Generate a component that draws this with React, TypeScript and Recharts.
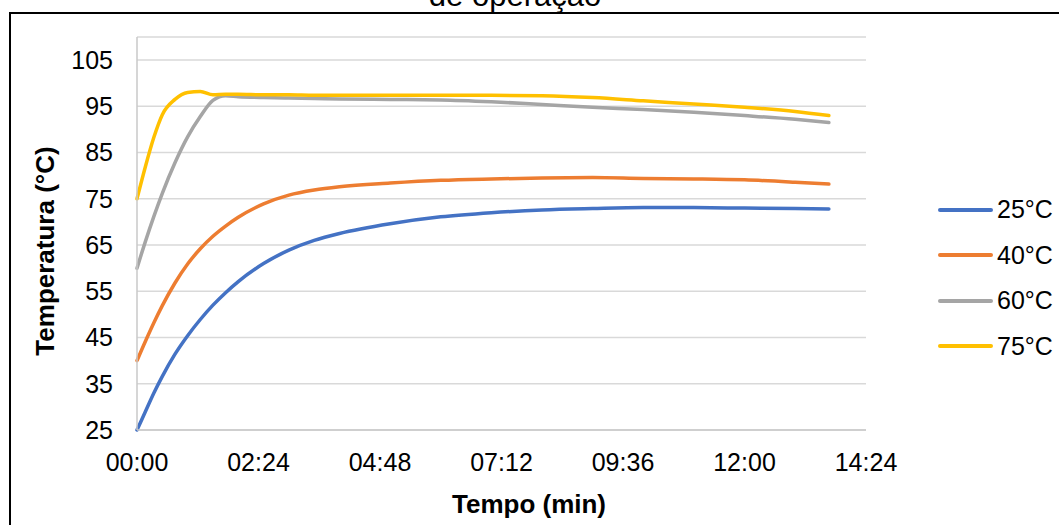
import React from "react";
import {
  LineChart,
  Line,
  XAxis,
  YAxis,
  CartesianGrid,
  Legend,
  Label,
} from "recharts";

// tempo em segundos
const times = [
  0, 10, 20, 30, 45, 60, 75, 90, 105, 120, 150, 180, 210, 240, 300, 360, 420,
  480, 540, 600, 660, 720, 780, 820,
];

const temp25 = [
  25, 29, 33, 36.6, 41.4, 45.4, 48.9, 52, 54.7, 57.1, 61, 63.9, 66, 67.5,
  69.6, 71.1, 72, 72.6, 72.9, 73.1, 73.1, 73, 72.9, 72.8,
];
const temp40 = [
  40, 44.2, 48.2, 51.9, 56.8, 60.9, 64.2, 66.9, 69.1, 71, 73.9, 75.8, 76.9,
  77.6, 78.4, 79, 79.3, 79.5, 79.6, 79.4, 79.3, 79.1, 78.6, 78.2,
];
const temp60 = [
  60, 65.8, 71.2, 76.2, 82.8, 88.4, 92.8, 96.3, 97.3, 97.1, 96.9, 96.8, 96.7,
  96.6, 96.5, 96.4, 96, 95.4, 94.8, 94.3, 93.7, 93, 92.2, 91.5,
];
const temp75 = [
  75, 82, 88.3, 93.2, 96.5, 98, 98.2, 97.5, 97.6, 97.6, 97.5, 97.5, 97.4,
  97.4, 97.4, 97.4, 97.4, 97.3, 96.9, 96.2, 95.5, 94.8, 93.9, 93,
];

const seriesNames = ["25°C", "40°C", "60°C", "75°C"];
const seriesKeys = ["s25", "s40", "s60", "s75"];
const seriesColors = ["#4472C4", "#ED7D31", "#A5A5A5", "#FFC000"];

const xTicks = [0, 144, 288, 432, 576, 720, 864];
const yTicks = [25, 35, 45, 55, 65, 75, 85, 95, 105];

const data = times.map((t, i) => ({
  t,
  s25: temp25[i],
  s40: temp40[i],
  s60: temp60[i],
  s75: temp75[i],
}));

const font = "'Liberation Sans', Arial, sans-serif";

const fmtTime = (v: number) => {
  const m = Math.floor(v / 60);
  const s = Math.round(v % 60);
  return `${String(m).padStart(2, "0")}:${String(s).padStart(2, "0")}`;
};

const LegendContent = (props: any) => {
  const items = props.payload || [];
  return (
    <div style={{ fontFamily: font, fontSize: 25, color: "#000" }}>
      {items.map((it: any) => (
        <div
          key={it.value}
          style={{ display: "flex", alignItems: "center", height: 45.5 }}
        >
          <span
            style={{
              display: "inline-block",
              width: 55,
              height: 4,
              borderRadius: 2,
              background: it.color,
            }}
          />
          <span style={{ marginLeft: 4, lineHeight: 1 }}>{it.value}</span>
        </div>
      ))}
    </div>
  );
};

export default function App() {
  return (
    <div
      style={{
        position: "absolute",
        left: 0,
        top: 0,
        width: 1059,
        height: 525,
        overflow: "hidden",
        background: "#fff",
      }}
    >
      {/* titulo cortado no topo, como na imagem original */}
      <div
        style={{
          position: "absolute",
          left: 0,
          top: -20,
          width: 1030,
          textAlign: "center",
          fontFamily: font,
          fontSize: 31,
          lineHeight: "31px",
          color: "#000",
        }}
      >
        de operação
      </div>
      <div
        style={{
          position: "absolute",
          left: 9,
          top: 12,
          width: 1200,
          height: 700,
          border: "2px solid #000",
          boxSizing: "border-box",
        }}
      />
      <div style={{ position: "absolute", left: 0, top: 0 }}>
        <LineChart
          width={1059}
          height={525}
          data={data}
          margin={{ top: 37, right: 193, left: 0, bottom: 0 }}
        >
          <CartesianGrid
            vertical={false}
            stroke="#D9D9D9"
            strokeWidth={1.5}
          />
          <XAxis
            dataKey="t"
            type="number"
            domain={[0, 864]}
            ticks={xTicks}
            interval={0}
            tickFormatter={fmtTime}
            height={95}
            tickLine={false}
            tickSize={0}
            tickMargin={23}
            axisLine={{ stroke: "#C8C8C8", strokeWidth: 1.5 }}
            tick={{ fill: "#000", fontSize: 25, fontFamily: font }}
          >
            <Label
              content={() => (
                <text
                  x={529}
                  y={513}
                  textAnchor="middle"
                  fontFamily={font}
                  fontSize={26}
                  fontWeight="bold"
                  fill="#000"
                >
                  Tempo (min)
                </text>
              )}
            />
          </XAxis>
          <YAxis
            type="number"
            domain={[25, 110]}
            ticks={yTicks}
            interval={0}
            width={137}
            tickLine={false}
            tickSize={0}
            tickMargin={24}
            axisLine={{ stroke: "#C8C8C8", strokeWidth: 1.5 }}
            tick={{ fill: "#000", fontSize: 25, fontFamily: font }}
          >
            <Label
              content={() => (
                <text
                  x={45}
                  y={251}
                  transform="rotate(-90, 45, 251)"
                  textAnchor="middle"
                  dominantBaseline="central"
                  fontFamily={font}
                  fontSize={26}
                  fontWeight="bold"
                  fill="#000"
                >
                  Temperatura (°C)
                </text>
              )}
            />
          </YAxis>
          <Legend
            layout="vertical"
            align="center"
            verticalAlign="middle"
            content={LegendContent}
            wrapperStyle={{ left: 938, top: 187, width: "auto" }}
          />
          {seriesKeys.map((k, i) => (
            <Line
              key={k}
              dataKey={k}
              name={seriesNames[i]}
              type="monotone"
              stroke={seriesColors[i]}
              strokeWidth={3.5}
              dot={false}
              isAnimationActive={false}
              strokeLinecap="round"
            />
          ))}
        </LineChart>
      </div>
    </div>
  );
}
